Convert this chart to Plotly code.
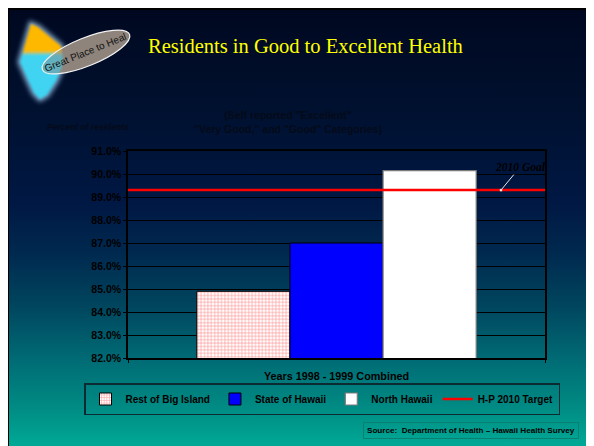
import base64
import plotly.graph_objects as go

# ---------------- data ----------------
categories = ["Years 1998 - 1999 Combined"]
series_names = ["Rest of Big Island", "State of Hawaii", "North Hawaii"]
series_values = [84.9, 87.0, 90.15]
target_name = "H-P 2010 Target"
target_value = 89.3
y_ticks = [82, 83, 84, 85, 86, 87, 88, 89, 90, 91]
y_tick_labels = [f"{v:.1f}%" for v in y_ticks]

# ---------------- geometry helpers ----------------
# the page body has an 8px margin, so the figure starts at screen (8, 8)
OX, OY = 8, 8
W, H = 586, 446
L, R, T, B = 120, 49, 143, 96
PW, PH = W - L - R, H - T - B


def px(x):  # screen x -> paper x
    return (x - OX - L) / PW


def py(y):  # screen y -> paper y
    return (H - B - (y - OY)) / PH


SANS = "Arial, Liberation Sans, sans-serif"
SERIF = "Times New Roman, Liberation Serif, serif"
DARK = "#000000"

ISLAND = "M31,24 L38,27 L50,37 L61,46 L63,58 L62,67 L56,81 L47,95 L40,99 L34,93 L27,78 L20,62 L24,48 L28,34 Z"

# ---------------- background (slide gradient + logo) ----------------
svg = f"""<svg xmlns='http://www.w3.org/2000/svg' width='{W}' height='{H}' viewBox='0 0 {W} {H}' preserveAspectRatio='none'>
<defs>
<linearGradient id='bg' x1='0' y1='0' x2='0' y2='1'>
<stop offset='0' stop-color='#000820'/>
<stop offset='0.206' stop-color='#00102e'/>
<stop offset='0.436' stop-color='#001844'/>
<stop offset='0.55' stop-color='#002a50'/>
<stop offset='0.665' stop-color='#00465e'/>
<stop offset='0.78' stop-color='#006a74'/>
<stop offset='0.894' stop-color='#008c84'/>
<stop offset='0.985' stop-color='#00ac98'/>
<stop offset='1' stop-color='#00ae9a'/>
</linearGradient>
<linearGradient id='isl' x1='0' y1='0' x2='0' y2='1'>
<stop offset='0.36' stop-color='#ffb800'/>
<stop offset='0.42' stop-color='#3fd4f2'/>
</linearGradient>
<clipPath id='ell'><ellipse cx='86' cy='52' rx='47' ry='14' transform='rotate(-22 86 52)'/></clipPath>
<filter id='glow' x='-50%' y='-50%' width='200%' height='200%'><feGaussianBlur stdDeviation='2.6'/></filter>
<filter id='soft' x='-20%' y='-20%' width='140%' height='140%'><feGaussianBlur stdDeviation='0.9'/></filter>
</defs>
<rect x='0' y='0' width='{W}' height='{H}' fill='#000000'/>
<rect x='1' y='2' width='{W}' height='{H}' fill='url(#bg)'/>
<g transform='translate(-{OX},-{OY})'>
<path d='{ISLAND}' fill='none' stroke='#a8d8ff' stroke-width='5' filter='url(#glow)' opacity='0.8'/>
<path d='{ISLAND}' fill='url(#isl)' filter='url(#soft)'/>
<ellipse cx='86' cy='52' rx='47' ry='14' transform='rotate(-22 86 52)' fill='#8e847c'/>
<g clip-path='url(#ell)'><path d='{ISLAND}' fill='url(#isl)' opacity='0.55' filter='url(#soft)'/></g>
<ellipse cx='86' cy='52' rx='47' ry='14' transform='rotate(-22 86 52)' fill='none' stroke='#f2f2f2' stroke-width='1.2'/>
</g>
</svg>"""
svg_uri = "data:image/svg+xml;base64," + base64.b64encode(svg.encode()).decode()

fig = go.Figure()

bar_styles = [
    dict(color="#ffffff", line=dict(color="#000000", width=1),
         pattern=dict(shape="+", fgcolor="#ff3030", bgcolor="#ffffff", size=3.4, solidity=0.35)),
    dict(color="#0000ff", line=dict(color="#000000", width=1)),
    dict(color="#ffffff", line=dict(color="#7a7a7a", width=1.2)),
]

for name, val, mk in zip(series_names, series_values, bar_styles):
    fig.add_trace(go.Bar(x=categories, y=[val], name=name, marker=mk))

fig.add_trace(go.Scatter(
    x=[0, 1], y=[target_value, target_value], xaxis="x2", mode="lines",
    name=target_name, line=dict(color="#ff0000", width=2.5),
))

fig.update_layout(
    width=W, height=H,
    margin=dict(l=L, r=R, t=T, b=B, pad=0, autoexpand=False),
    paper_bgcolor="#00405a",
    plot_bgcolor="rgba(0,0,0,0)",
    barmode="group", bargap=0.33, bargroupgap=0,
    showlegend=True,
    legend=dict(
        orientation="h", x=px(84), xanchor="left", y=py(383), yanchor="top",
        font=dict(family=SANS, size=10, color=DARK, weight="bold"),
        bgcolor="rgba(0,0,0,0)", bordercolor="#0b2a32", borderwidth=1.5,
        itemwidth=30, tracegroupgap=0,
    ),
    xaxis=dict(
        type="category", showline=True, linecolor="#000000", linewidth=1.5,
        mirror=True, ticks="outside", tickson="boundaries", ticklen=3,
        tickcolor="#000000", showgrid=False, ticklabelstandoff=7,
        tickfont=dict(family=SANS, size=10.8, color=DARK, weight="bold"),
    ),
    xaxis2=dict(overlaying="x", range=[0, 1], visible=False),
    yaxis=dict(
        range=[82, 91], tickmode="array", tickvals=y_ticks, ticktext=y_tick_labels,
        showline=True, linecolor="#000000", linewidth=1.5, mirror=True,
        ticks="outside", ticklen=3, tickcolor="#000000",
        showgrid=True, gridcolor="#000000", gridwidth=1, zeroline=False,
        tickfont=dict(family=SANS, size=10.5, color=DARK, weight="bold"),
    ),
    images=[dict(
        source=svg_uri, xref="paper", yref="paper",
        x=-L / PW, y=(H - B) / PH, sizex=W / PW, sizey=H / PH,
        xanchor="left", yanchor="top", sizing="stretch", layer="below",
    )],
)

annotations = [
    dict(text="Residents in Good to Excellent Health", x=px(305), y=py(46),
         font=dict(family=SERIF, size=20.5, color="#ffff00")),
    dict(text="Great Place to Heal", x=px(85), y=py(53), textangle=-22,
         font=dict(family=SANS, size=10, color="#111111")),
    dict(text="(Self reported \"Excellent\"<br>\"Very Good,\" and \"Good\" Categories)",
         x=px(288), y=py(122), align="center",
         font=dict(family=SANS, size=10.5, color="#050a18", weight="bold")),
    dict(text="<i>Percent of residents</i>", x=px(88), y=py(127),
         font=dict(family=SANS, size=8.5, color="#050a18", weight="bold")),
    dict(text="Source:  Department of Health \u2013 Hawaii Health Survey",
         x=px(471), y=py(430.5), bordercolor="#0a7f72", borderwidth=1, borderpad=3,
         font=dict(family=SANS, size=8.1, color=DARK, weight="bold")),
    dict(text="<i>2010 Goal</i>", xref="x2", yref="y", x=px(501), y=target_value,
         showarrow=True, ax=19, ay=-23, arrowcolor="#e8e8e8", arrowwidth=1,
         arrowhead=7, arrowsize=0.6,
         font=dict(family=SERIF, size=11.5, color="#000000", weight="bold")),
]
for a in annotations:
    a.setdefault("xref", "paper")
    a.setdefault("yref", "paper")
    a.setdefault("showarrow", False)
    a.setdefault("xanchor", "center")
    a.setdefault("yanchor", "middle")
    fig.add_annotation(**a)

fig.write_html("out.html")
